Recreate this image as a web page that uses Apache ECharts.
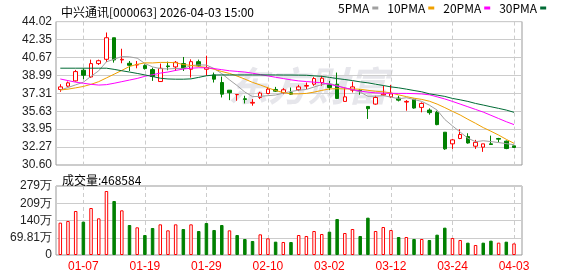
<!DOCTYPE html>
<html><head><meta charset="utf-8">
<script src="https://cdn.jsdelivr.net/npm/echarts@6/dist/echarts.min.js"></script>
<style>html,body{margin:0;padding:0;background:#fff}#c{width:578px;height:276px}</style>
</head><body><div id="c"></div>
<script>
const dates = ['12-31','01-05','01-06','01-07','01-08','01-09','01-12','01-13','01-14','01-15','01-16','01-19','01-20','01-21','01-22','01-23','01-26','01-27','01-28','01-29','01-30','02-02','02-03','02-04','02-05','02-06','02-09','02-10','02-11','02-12','02-13','02-24','02-25','02-26','02-27','03-02','03-03','03-04','03-05','03-06','03-09','03-10','03-11','03-12','03-13','03-16','03-17','03-18','03-19','03-20','03-23','03-24','03-25','03-26','03-27','03-30','03-31','04-01','04-02','04-03'];
const opens  = [37.67,37.98,38.47,39.47,38.84,40.09,40.49,42.51,40.43,40.12,39.96,39.90,39.53,38.41,39.87,39.78,40.09,39.56,40.27,39.56,39.03,38.32,37.60,37.18,36.80,36.39,36.92,37.29,37.67,37.36,37.36,37.64,37.98,38.16,38.32,38.10,38.16,36.55,37.60,37.60,36.08,36.30,37.14,36.98,36.86,36.49,36.74,35.99,35.74,35.53,33.67,32.58,33.08,33.26,32.36,32.27,32.58,33.08,32.83,32.39];
const closes = [37.91,38.29,39.34,39.00,40.09,40.36,42.51,40.43,40.49,39.93,40.00,39.62,38.88,39.65,39.81,40.21,39.65,40.27,39.90,39.71,38.63,37.23,37.36,37.20,36.74,36.46,37.33,37.70,37.51,37.64,37.23,37.91,38.04,38.69,38.72,37.85,36.83,36.98,37.91,37.54,35.87,36.92,37.23,37.26,36.67,36.55,35.93,36.36,35.50,34.38,32.11,32.95,33.45,32.66,32.72,32.58,32.52,33.02,32.14,32.24];
const lows   = [37.45,37.91,38.41,38.63,38.75,39.96,40.24,40.18,40.12,39.40,39.65,39.53,38.47,38.38,39.47,39.40,39.40,38.78,39.78,38.94,38.32,36.92,36.67,36.61,36.36,36.15,36.77,37.23,37.45,37.23,37.17,37.51,37.70,38.01,38.01,37.60,36.77,36.55,37.39,37.17,34.91,36.24,37.08,36.86,36.55,35.68,35.87,35.53,35.31,34.32,32.02,32.11,33.02,32.60,32.11,31.83,32.52,32.73,32.08,32.20];
const highs  = [38.16,38.41,39.50,39.65,40.46,40.46,43.00,42.51,41.48,40.33,40.33,40.02,39.71,40.09,40.27,40.33,40.71,40.49,40.46,40.83,39.25,38.88,37.60,37.20,37.08,36.77,37.45,37.91,37.91,37.79,37.85,38.10,38.32,38.84,38.94,38.47,39.25,37.85,38.41,37.70,36.08,37.08,38.01,38.10,37.08,36.67,36.80,36.46,35.90,35.68,33.67,33.05,33.94,33.57,32.95,32.58,33.35,33.14,32.89,32.39];
const ma5  = [37.62,37.85,38.10,38.35,38.90,39.42,40.26,40.50,40.75,40.72,40.60,40.10,39.78,39.62,39.59,39.63,39.64,39.90,39.97,39.95,39.63,39.15,38.57,38.03,37.43,37.00,37.02,37.09,37.15,37.33,37.48,37.60,37.67,37.90,38.12,38.24,38.03,37.81,37.66,37.42,37.03,37.04,37.09,36.96,36.79,36.90,36.73,36.55,36.20,35.74,34.86,34.26,33.68,33.11,32.78,32.87,32.79,32.70,32.60,32.50];
const ma10 = [37.62,37.70,37.82,37.95,38.15,38.40,38.75,39.10,39.45,39.82,40.02,40.16,40.15,40.20,40.20,40.17,40.00,39.92,39.82,39.73,39.56,39.35,39.17,38.92,38.64,38.33,38.09,37.82,37.57,37.38,37.25,37.26,37.30,37.42,37.58,37.72,37.74,37.72,37.72,37.69,37.59,37.50,37.45,37.35,37.16,37.00,36.85,36.74,36.57,36.30,35.97,35.62,35.28,34.88,34.50,34.10,33.76,33.40,33.00,32.63];
const ma20 = [38.65,38.50,38.35,38.25,38.15,38.08,38.12,38.25,38.40,38.55,38.70,38.90,39.05,39.20,39.30,39.45,39.58,39.66,39.70,39.70,39.62,39.52,39.42,39.36,39.30,39.19,39.06,38.94,38.81,38.69,38.57,38.47,38.41,38.35,38.29,38.16,37.98,37.82,37.66,37.52,37.42,37.35,37.32,37.31,37.30,37.30,37.28,37.25,37.17,36.98,36.78,36.55,36.30,36.05,35.80,35.55,35.25,34.95,34.65,34.38];
const ma30 = [39.66,39.66,39.66,39.66,39.66,39.66,39.66,39.55,39.42,39.30,39.17,39.03,38.88,38.72,38.65,38.63,38.63,38.66,38.80,38.95,39.02,39.03,39.03,39.03,39.03,39.03,39.03,39.03,39.03,39.02,39.02,39.01,39.00,38.94,38.90,38.80,38.69,38.60,38.50,38.38,38.29,38.16,38.04,37.91,37.82,37.70,37.57,37.45,37.26,37.14,37.02,36.83,36.70,36.55,36.36,36.21,36.05,35.90,35.74,35.53];
const volumes = [130.9,137.6,178.1,134.9,190.2,148.4,259.0,218.5,180.8,121.4,112.0,80.9,109.3,124.1,99.8,124.1,105.2,124.1,97.1,129.5,101.2,121.4,99.8,80.9,64.8,56.7,83.6,67.5,54.0,52.6,52.6,80.9,76.9,97.1,85.0,94.4,145.7,89.0,105.2,76.9,151.1,97.1,113.3,101.2,72.8,72.8,64.8,64.8,60.7,82.3,110.6,68.8,60.7,49.9,40.5,49.9,58.0,49.9,54.0,46.86];
const volUp = [1,1,1,0,1,1,1,0,1,0,1,0,0,1,1,1,0,1,0,0,0,0,1,0,0,0,1,1,0,1,0,1,1,1,1,0,0,1,1,0,0,1,1,1,0,1,0,1,0,0,0,1,1,0,1,0,0,1,0,1];
const priceTicks = ['30.60','32.27','33.95','35.63','37.31','38.99','40.67','42.35','44.02'];
const volTicks = ['0','69.81万','140万','209万','279万'];
const maNames = ['5PMA','10PMA','20PMA','30PMA'];

const RED = '#ff0000', GREEN = '#008000';
const maColors = ['#a0a0a0','#f0a000','#ff00ff','#006b35'];
const labelEvery = (i) => (i - 3) % 8 === 0;

const candleData = opens.map((o, i) => [o, closes[i], lows[i], highs[i]]);
const volData = volumes.map((v, i) => ({
  value: v,
  itemStyle: volUp[i] ? {color: '#ffffff', borderColor: RED, borderWidth: 1}
                      : {color: GREEN, borderColor: GREEN, borderWidth: 1}
}));

const chart = echarts.init(document.getElementById('c'), null, {renderer: 'canvas'});
const axisFont = {fontFamily: 'Liberation Sans, Arial, sans-serif', fontSize: 12, color: '#222'};

const mainTop = 21.6, mainH = 143.4, volTop = 186, volH = 69;
const fL = 56, fW = 466, dL = 60.3, dW = 453.7;

chart.setOption({
  animation: false,
  backgroundColor: '#fff',
  title: [
    {text: '中兴通讯[000063] 2026-04-03 15:00', left: 56, top: 1,
     textStyle: {fontFamily: 'Noto Sans CJK SC', fontSize: 12, fontWeight: 'normal', color: '#000'}},
    {text: '成交量:468584', left: 57, top: 169,
     textStyle: {fontFamily: 'Noto Sans CJK SC', fontSize: 12, fontWeight: 'normal', color: '#000'}}
  ],
  legend: {
    data: maNames, left: 338, top: 2, align: 'right', icon: 'rect',
    itemWidth: 6, itemHeight: 3, itemGap: 9, selectedMode: false, padding: 0,
    textStyle: {fontFamily: 'Noto Sans CJK SC', fontSize: 12, color: '#000', padding: [0, -2, 0, 0]}
  },
  graphic: [{
    type: 'text', left: 228, top: 66, z: -10, silent: true,
    style: {text: '东方财富', fill: '#e6e6eb', font: 'italic bold 40px "Noto Sans CJK SC"'}
  }],
  grid: [
    {left: fL, top: mainTop, width: fW, height: mainH, show: true, borderColor: '#999', borderWidth: 1, backgroundColor: 'transparent'},
    {left: dL, top: mainTop, width: dW, height: mainH},
    {left: fL, top: volTop, width: fW, height: volH, show: true, borderColor: '#999', borderWidth: 1, backgroundColor: 'transparent'},
    {left: dL, top: volTop, width: dW, height: volH}
  ],
  xAxis: [
    {type: 'value', gridIndex: 0, min: 0, max: 1, show: false},
    {type: 'category', gridIndex: 1, data: dates, boundaryGap: false,
     axisLine: {show: false}, axisTick: {show: false}, axisLabel: {show: false},
     splitLine: {show: true, interval: labelEvery, lineStyle: {color: '#ccc', type: [4, 3]}}},
    {type: 'value', gridIndex: 2, min: 0, max: 1, show: false},
    {type: 'category', gridIndex: 3, data: dates, boundaryGap: false,
     axisLine: {show: false}, axisTick: {show: false},
     axisLabel: {show: true, interval: labelEvery, color: RED, fontSize: 12, margin: 6,
                 fontFamily: 'Liberation Sans, Arial, sans-serif'},
     splitLine: {show: true, interval: labelEvery, lineStyle: {color: '#ccc', type: [4, 3]}}}
  ],
  yAxis: [
    {type: 'value', gridIndex: 0, min: 0, max: 8, interval: 1,
     axisLine: {show: false}, axisTick: {show: false},
     axisLabel: Object.assign({margin: 4, formatter: (v) => priceTicks[v]}, axisFont),
     splitLine: {show: true, lineStyle: {color: '#ccc'}}},
    {type: 'value', gridIndex: 1, min: 30.60, max: 44.02, show: false},
    {type: 'value', gridIndex: 2, min: 0, max: 4, interval: 1,
     axisLine: {show: false}, axisTick: {show: false},
     axisLabel: Object.assign({margin: 4, formatter: (v) => volTicks[v]}, axisFont),
     splitLine: {show: true, lineStyle: {color: '#ccc'}}},
    {type: 'value', gridIndex: 3, min: 0, max: 279.24, show: false}
  ],
  series: [
    {type: 'candlestick', xAxisIndex: 1, yAxisIndex: 1, data: candleData, barWidth: 4, clip: false,
     itemStyle: {color: '#ffffff', color0: GREEN, borderColor: RED, borderColor0: GREEN, borderWidth: 1}},
    ...maNames.map((n, k) => ({
      name: n, type: 'line', xAxisIndex: 1, yAxisIndex: 1, data: [ma5, ma10, ma20, ma30][k],
      showSymbol: false, symbol: 'none', z: 3, clip: false,
      itemStyle: {color: maColors[k]}, lineStyle: {color: maColors[k], width: 1}
    })),
    {type: 'bar', xAxisIndex: 3, yAxisIndex: 3, data: volData, barWidth: 3.5, clip: false}
  ]
});
</script>
</body></html>
